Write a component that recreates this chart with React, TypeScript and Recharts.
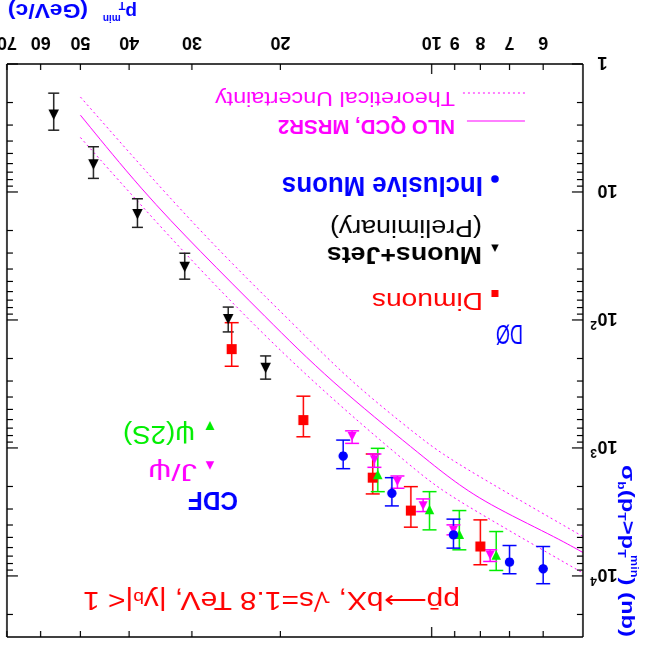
import React from "react";
import { ComposedChart, XAxis, YAxis, Line, Scatter, ErrorBar } from "recharts";

const W = 647;
const H = 645;
const FONT = "'Liberation Sans', Arial, sans-serif";

// axis ticks
const xTicks = [6, 7, 8, 9, 10, 20, 30, 40, 50, 60, 70];
const xTickLabels = ["6", "7", "8", "9", "10", "20", "30", "40", "50", "60", "70"];
const yTicks = [
  1, 2, 3, 4, 5, 6, 7, 8, 9,
  10, 20, 30, 40, 50, 60, 70, 80, 90,
  100, 200, 300, 400, 500, 600, 700, 800, 900,
  1000, 2000, 3000, 4000, 5000, 6000, 7000, 8000, 9000,
  10000, 20000,
];
const yMajor = [1, 10, 100, 1000, 10000];
const yMajorBase = ["1", "10", "10", "10", "10"];
const yMajorExp = ["", "", "2", "3", "4"];

// Muons+Jets (preliminary)
const jetPt = [56.5, 47.1, 38.5, 31.0, 25.4, 21.4];
const jetSigma = [2.47, 6.05, 14.8, 38.2, 97.7, 235];
const jetLow = [1.69, 4.43, 11.3, 30.1, 79.3, 191];
const jetHigh = [3.29, 7.83, 18.9, 48.0, 124, 290];

// Dimuons
const dimuPt = [25.0, 18.0, 13.1, 11.0, 8.0];
const dimuSigma = [169, 606, 1707, 3087, 5890];
const dimuLow = [105, 394, 1115, 2006, 3648];
const dimuHigh = [230, 818, 2287, 4159, 8180];

// Inclusive muons
const incPt = [15.0, 12.0, 9.05, 7.0, 6.0];
const incSigma = [1156, 2259, 4775, 7795, 8790];
const incLow = [868, 1707, 3599, 5785, 5890];
const incHigh = [1452, 2837, 6064, 9615, 11500];

// CDF J/psi
const jpsiPt = [14.4, 13.0, 11.7, 10.4, 9.05, 7.65];
const jpsiSigma = [808, 1227, 1811, 2801, 4365, 6838];
const jpsiLow = [735, 1115, 1656, 2502, 3990, 6249];
const jpsiHigh = [921, 1417, 2065, 3141, 4775, 7706];

// CDF psi(2S)
const psi2Pt = [12.8, 10.1, 8.81, 7.44];
const psi2Sigma = [1626, 3048, 4775, 6918];
const psi2Low = [1007, 2195, 3085, 4500];
const psi2High = [2195, 4365, 6249, 9060];

// NLO QCD, MRSR2 and its uncertainty band
const nloPt = [50, 37.7, 29.0, 21.4, 16.0, 10.5, 9.2, 7.8, 5.7, 5.0];
const nloSigma = [2.51, 9.77, 28.7, 94.9, 296, 1136, 1726, 2704, 4921, 6560];
const lowPt = [50, 29.0, 18.3, 14.6, 10.5, 9.2, 5.0];
const lowSigma = [1.81, 20.6, 120, 296, 842, 1242, 4920];
const highPt = [50, 29.0, 17.5, 10.5, 9.2, 5.0];
const highSigma = [3.75, 41.1, 296, 1626, 2400, 9490];

const withErr = (pt: number[], s: number[], lo: number[], hi: number[]) =>
  pt.map((x, i) => ({ x, y: s[i], err: [s[i] - lo[i], hi[i] - s[i]] }));
const curve = (pt: number[], s: number[]) => pt.map((x, i) => ({ x, y: s[i] }));

const jetData = withErr(jetPt, jetSigma, jetLow, jetHigh);
const dimuData = withErr(dimuPt, dimuSigma, dimuLow, dimuHigh);
const incData = withErr(incPt, incSigma, incLow, incHigh);
const jpsiData = withErr(jpsiPt, jpsiSigma, jpsiLow, jpsiHigh);
const psi2Data = withErr(psi2Pt, psi2Sigma, psi2Low, psi2High);

const upTri = (cx: number, cy: number, s: number) =>
  `M${cx},${cy - s * 0.55} L${cx + s / 2},${cy + s * 0.45} L${cx - s / 2},${cy + s * 0.45} Z`;
const downTri = (cx: number, cy: number, s: number) =>
  `M${cx},${cy + s * 0.55} L${cx + s / 2},${cy - s * 0.45} L${cx - s / 2},${cy - s * 0.45} Z`;

const circleShape = (p: any) => <circle cx={p.cx} cy={p.cy} r={4.7} fill="#0000ff" />;
const squareShape = (p: any) => <rect x={p.cx - 5} y={p.cy - 5} width={10} height={10} fill="#ff0000" />;
const blackTri = (p: any) => <path d={upTri(p.cx, p.cy, 10.5)} fill="#000" />;
const magentaTri = (p: any) => <path d={upTri(p.cx, p.cy, 9)} fill="#ff00ff" />;
const greenTri = (p: any) => <path d={downTri(p.cx, p.cy, 9.5)} fill="#00ee00" />;

const XTickBottom = (props: any) => {
  const { x, y, payload } = props;
  const len = payload.value === 10 ? 10 : 6;
  const label = xTickLabels[xTicks.indexOf(payload.value)];
  return (
    <g>
      <line x1={x} y1={y} x2={x} y2={y - len} stroke="#000" strokeWidth={1.2} />
      <text x={x} y={y + 27} textAnchor="middle" fontSize={18} fontWeight="bold" fontFamily={FONT} fill="#000">
        {label}
      </text>
    </g>
  );
};

const XTickTop = (props: any) => {
  const { x, y, payload } = props;
  const len = payload.value === 10 ? 10 : 6;
  return <line x1={x} y1={y} x2={x} y2={y + len} stroke="#000" strokeWidth={1.2} />;
};

const YTickLeft = (props: any) => {
  const { x, y, payload } = props;
  const k = yMajor.indexOf(payload.value);
  const len = k >= 0 ? 11 : 6;
  return (
    <g>
      <line x1={x} y1={y} x2={x + len} y2={y} stroke="#000" strokeWidth={1.2} />
      {k >= 0 && (
        <text x={49.5} y={y + 7} textAnchor="end" fontSize={18} fontWeight="bold" fontFamily={FONT} fill="#000">
          {yMajorBase[k]}
        </text>
      )}
      {k >= 0 && yMajorExp[k] && (
        <text x={50} y={y - 1} textAnchor="start" fontSize={12} fontWeight="bold" fontFamily={FONT} fill="#000">
          {yMajorExp[k]}
        </text>
      )}
    </g>
  );
};

const YTickRight = (props: any) => {
  const { x, y, payload } = props;
  const len = yMajor.indexOf(payload.value) >= 0 ? 11 : 6;
  return <line x1={x} y1={y} x2={x - len} y2={y} stroke="#000" strokeWidth={1.2} />;
};

const axisLine = { stroke: "#000", strokeWidth: 1.5 };

const App: React.FC = () => {
  return (
    <div
      style={{
        position: "fixed",
        left: 0,
        top: 0,
        width: W,
        height: H,
        background: "#fff",
        transform: "rotate(180deg)",
      }}
    >
      <ComposedChart width={W} height={H} margin={{ top: 0, right: 0, bottom: 0, left: 0 }}>
        <XAxis
          xAxisId="b"
          type="number"
          dataKey="x"
          scale="log"
          domain={[5, 70]}
          ticks={xTicks}
          interval={0}
          allowDataOverflow
          orientation="bottom"
          height={64}
          tickSize={0}
          tickMargin={0}
          tickLine={false}
          axisLine={axisLine}
          tick={<XTickBottom />}
        />
        <XAxis
          xAxisId="t"
          type="number"
          dataKey="x"
          scale="log"
          domain={[5, 70]}
          ticks={xTicks}
          interval={0}
          allowDataOverflow
          orientation="top"
          height={8}
          tickSize={0}
          tickMargin={0}
          tickLine={false}
          axisLine={axisLine}
          tick={<XTickTop />}
        />
        <YAxis
          yAxisId="l"
          type="number"
          dataKey="y"
          scale="log"
          domain={[1, 30000]}
          ticks={yTicks}
          interval={0}
          allowDataOverflow
          orientation="left"
          width={64}
          tickSize={0}
          tickMargin={0}
          tickLine={false}
          axisLine={axisLine}
          tick={<YTickLeft />}
        />
        <YAxis
          yAxisId="r"
          type="number"
          dataKey="y"
          scale="log"
          domain={[1, 30000]}
          ticks={yTicks}
          interval={0}
          allowDataOverflow
          orientation="right"
          width={7}
          tickSize={0}
          tickMargin={0}
          tickLine={false}
          axisLine={axisLine}
          tick={<YTickRight />}
        />

        <Line xAxisId="b" yAxisId="l" data={curve(highPt, highSigma)} dataKey="y" type="basis"
          stroke="#ff00ff" strokeWidth={1} strokeDasharray="2 3" dot={false} activeDot={false} isAnimationActive={false} />
        <Line xAxisId="b" yAxisId="l" data={curve(lowPt, lowSigma)} dataKey="y" type="basis"
          stroke="#ff00ff" strokeWidth={1} strokeDasharray="2 3" dot={false} activeDot={false} isAnimationActive={false} />
        <Line xAxisId="b" yAxisId="l" data={curve(nloPt, nloSigma)} dataKey="y" type="basis"
          stroke="#ff00ff" strokeWidth={1} dot={false} activeDot={false} isAnimationActive={false} />

        <Scatter xAxisId="b" yAxisId="l" data={jetData} dataKey="y" shape={blackTri} isAnimationActive={false}>
          <ErrorBar dataKey="err" direction="y" width={5.5} stroke="#222" strokeWidth={1.5} />
        </Scatter>
        <Scatter xAxisId="b" yAxisId="l" data={dimuData} dataKey="y" shape={squareShape} isAnimationActive={false}>
          <ErrorBar dataKey="err" direction="y" width={7} stroke="#ff0000" strokeWidth={1.5} />
        </Scatter>
        <Scatter xAxisId="b" yAxisId="l" data={psi2Data} dataKey="y" shape={greenTri} isAnimationActive={false}>
          <ErrorBar dataKey="err" direction="y" width={7} stroke="#00ee00" strokeWidth={1.5} />
        </Scatter>
        <Scatter xAxisId="b" yAxisId="l" data={jpsiData} dataKey="y" shape={magentaTri} isAnimationActive={false}>
          <ErrorBar dataKey="err" direction="y" width={7} stroke="#ff00ff" strokeWidth={1.5} />
        </Scatter>
        <Scatter xAxisId="b" yAxisId="l" data={incData} dataKey="y" shape={circleShape} isAnimationActive={false}>
          <ErrorBar dataKey="err" direction="y" width={7} stroke="#0000ff" strokeWidth={1.5} />
        </Scatter>
      </ComposedChart>

      <svg width={W} height={H} style={{ position: "absolute", left: 0, top: 0, pointerEvents: "none" }} fontFamily={FONT}>
        {/* process title */}
        <text x={187} y={53} fontSize={25} fill="#ff0000" textLength={377} lengthAdjust="spacingAndGlyphs">
          {"pp\u0304\u27F6bX,  \u221As=1.8 TeV,  |y"}
          <tspan fontSize={16}>b</tspan>
          <tspan>{"|< 1"}</tspan>
        </text>

        {/* CDF block */}
        <text x={409} y={153} fontSize={26} fontWeight="bold" fill="#0000ff" textLength={50} lengthAdjust="spacingAndGlyphs">CDF</text>
        <path d={upTri(437, 180, 8.5)} fill="#ff00ff" />
        <text x={450} y={181} fontSize={24} fill="#ff00ff" textLength={49} lengthAdjust="spacingAndGlyphs">{"J/\u03C8"}</text>
        <path d={downTri(437, 219, 9)} fill="#00ee00" />
        <text x={452} y={219} fontSize={25} fill="#00ee00" textLength={72} lengthAdjust="spacingAndGlyphs">{"\u03C8(2S)"}</text>

        {/* D0 block */}
        <text x={124} y={320} fontSize={28} fill="#0000ff" textLength={27} lengthAdjust="spacingAndGlyphs">{"D\u00D8"}</text>
        <rect x={148.5} y={348} width={7} height={7} fill="#ff0000" />
        <text x={164} y={352} fontSize={23} fill="#ff0000" textLength={111} lengthAdjust="spacingAndGlyphs">Dimuons</text>
        <path d={upTri(152, 397, 7.5)} fill="#000" />
        <text x={165} y={398} fontSize={24} fontWeight="bold" fill="#000" textLength={155} lengthAdjust="spacingAndGlyphs">Muons+Jets</text>
        <text x={165} y={425} fontSize={23} fill="#000" textLength={152} lengthAdjust="spacingAndGlyphs">(Preliminary)</text>
        <circle cx={152} cy={466} r={3.8} fill="#0000ff" />
        <text x={164} y={468} fontSize={27} fontWeight="bold" fill="#0000ff" textLength={201} lengthAdjust="spacingAndGlyphs">Inclusive Muons</text>

        {/* theory legend */}
        <line x1={122} y1={524} x2={180} y2={524} stroke="#ff00ff" strokeWidth={1} />
        <text x={192} y={525} fontSize={20} fontWeight="bold" fill="#ff00ff" textLength={177} lengthAdjust="spacingAndGlyphs">NLO QCD, MRSR2</text>
        <line x1={122} y1={552} x2={187} y2={552} stroke="#ff00ff" strokeWidth={1} strokeDasharray="2 3" />
        <text x={192} y={553} fontSize={21} fill="#ff00ff" textLength={240} lengthAdjust="spacingAndGlyphs">Theoretical Uncertainty</text>

        {/* axis titles */}
        <text x={510} y={639} fontSize={19} fontWeight="bold" fill="#0000ff">
          p
          <tspan fontSize={11} dy={4}>T</tspan>
          <tspan fontSize={10} dx={-2} dy={-13}>min</tspan>
        </text>
        <text x={559} y={641} fontSize={20} fontWeight="bold" fill="#0000ff" textLength={80} lengthAdjust="spacingAndGlyphs">(GeV/c)</text>
        <text
          transform="translate(25,180) rotate(-90)"
          x={0}
          y={0}
          fontSize={19}
          fontWeight="bold"
          fill="#0000ff"
          textLength={172}
          lengthAdjust="spacingAndGlyphs"
        >
          {"\u03C3"}
          <tspan fontSize={11} dy={4}>b</tspan>
          <tspan dy={-4}>(p</tspan>
          <tspan fontSize={11} dy={4}>T</tspan>
          <tspan dy={-4}>{">p"}</tspan>
          <tspan fontSize={11} dy={4}>T</tspan>
          <tspan fontSize={10} dx={-2} dy={-13}>min</tspan>
          <tspan dy={9}>{") (nb)"}</tspan>
        </text>
      </svg>
    </div>
  );
};

export default App;
